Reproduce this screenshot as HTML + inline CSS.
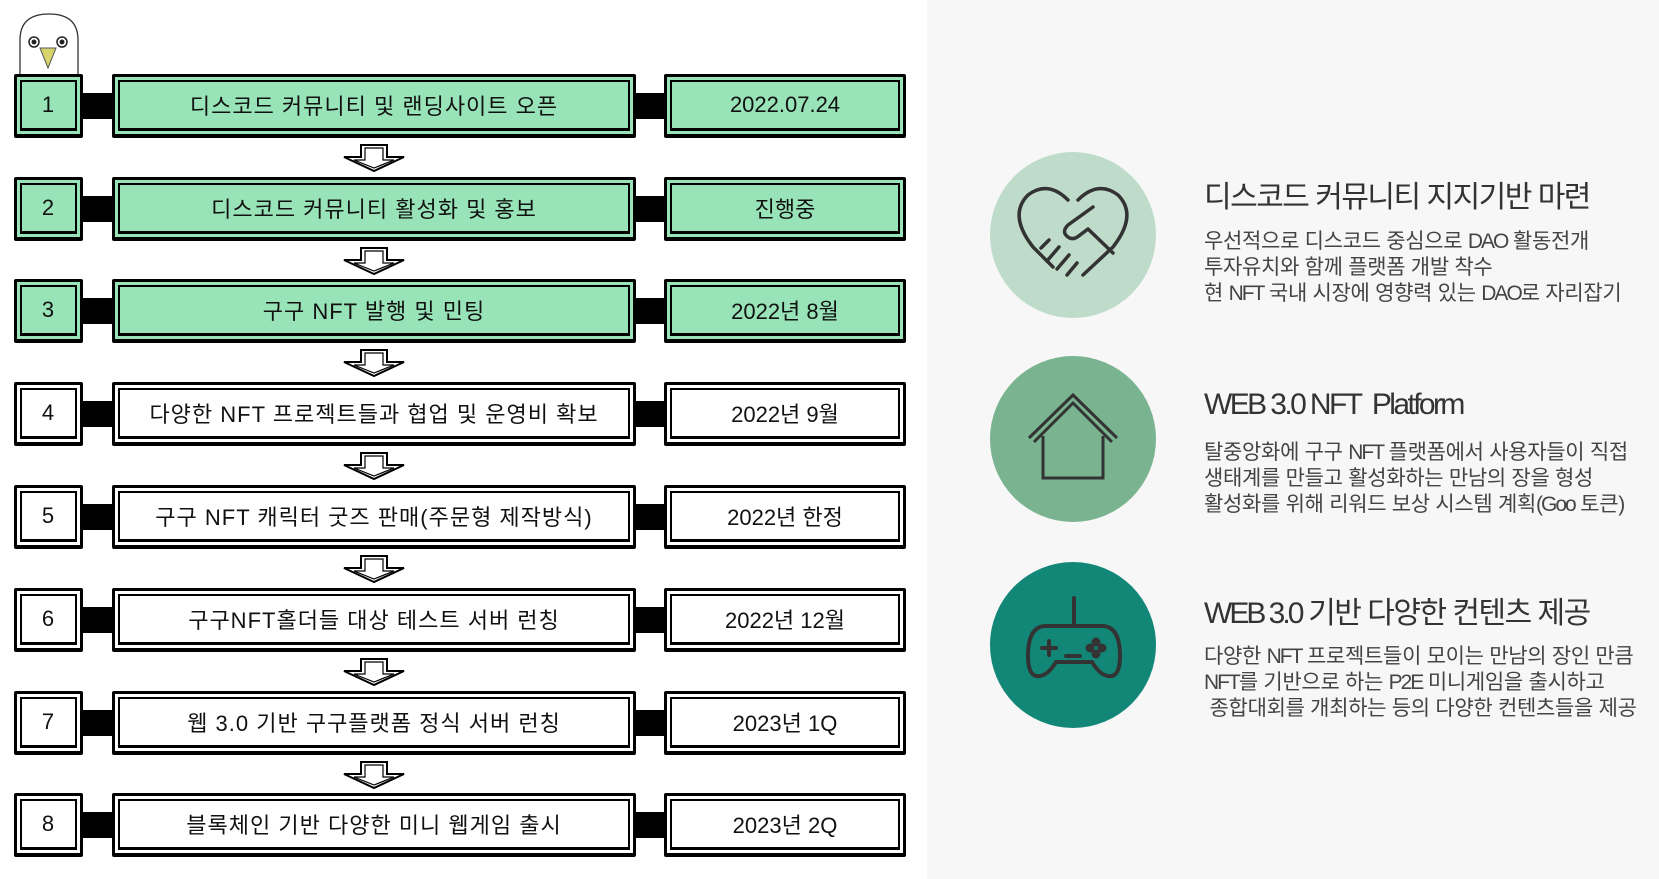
<!DOCTYPE html>
<html><head><meta charset="utf-8"><style>
*{margin:0;padding:0;box-sizing:border-box}
body{width:1659px;height:879px;position:relative;background:#fff;overflow:hidden;font-family:"Liberation Sans","Noto Sans CJK KR",sans-serif}
.b{position:absolute;height:64px;border:3px solid #000;border-bottom-width:4px;padding:3px;border-radius:2px}
.b>div{width:100%;height:100%;border:2px solid #000;border-bottom-width:3px;display:flex;align-items:center;justify-content:center;font-size:22px;letter-spacing:1px;color:#111}
.g{background:#98e4b8}.w{background:#fff}
.n{left:14px;width:69px}.c{left:112px;width:524px}.d{left:664px;width:242px}
.d>div{letter-spacing:0}
.k{position:absolute;background:#000;height:26px}
.arr{position:absolute;left:341px;width:66px;height:30px}
.rp{position:absolute;left:927px;top:0;width:732px;height:879px;background:#f7f7f7}
.ci{position:absolute;width:166px;height:166px;border-radius:50%;left:990px}
.t{position:absolute;left:1204px;font-size:30px;color:#333;letter-spacing:-1.5px;white-space:nowrap}
.p{position:absolute;left:1204px;font-size:21px;color:#444;line-height:26px;letter-spacing:-0.3px;white-space:nowrap}
.p span,.t span{letter-spacing:-2px}
</style></head><body>
<div class="rp"></div>

<svg style="position:absolute;left:17px;top:12px" width="66" height="64" viewBox="0 0 66 64">
<path d="M3 63 V28 Q3 2 32 2 Q61 2 61 28 V63" fill="#fff" stroke="#333" stroke-width="1.3"/>
<circle cx="17" cy="30" r="5" fill="#fff" stroke="#222" stroke-width="1.5"/><circle cx="17" cy="30" r="2.5" fill="#222"/>
<circle cx="45" cy="30" r="5" fill="#fff" stroke="#222" stroke-width="1.5"/><circle cx="45" cy="30" r="2.5" fill="#222"/>
<path d="M23 36 L39 36 L31 56 Z" fill="#d6d46a" stroke="#555" stroke-width="1"/>
</svg>

<div class="b n g" style="top:74px"><div>1</div></div><div class="k" style="left:83px;width:30px;top:93px"></div>
<div class="b c g" style="top:74px"><div>디스코드 커뮤니티 및 랜딩사이트 오픈</div></div><div class="k" style="left:635px;width:30px;top:93px"></div>
<div class="b d g" style="top:74px"><div>2022.07.24</div></div>

<div class="b n g" style="top:177px"><div>2</div></div><div class="k" style="left:83px;width:30px;top:196px"></div>
<div class="b c g" style="top:177px"><div>디스코드 커뮤니티 활성화 및 홍보</div></div><div class="k" style="left:635px;width:30px;top:196px"></div>
<div class="b d g" style="top:177px"><div>진행중</div></div>

<div class="b n g" style="top:279px"><div>3</div></div><div class="k" style="left:83px;width:30px;top:298px"></div>
<div class="b c g" style="top:279px"><div>구구 NFT 발행 및 민팅</div></div><div class="k" style="left:635px;width:30px;top:298px"></div>
<div class="b d g" style="top:279px"><div>2022년 8월</div></div>

<div class="b n w" style="top:382px"><div>4</div></div><div class="k" style="left:83px;width:30px;top:401px"></div>
<div class="b c w" style="top:382px"><div>다양한 NFT 프로젝트들과 협업 및 운영비 확보</div></div><div class="k" style="left:635px;width:30px;top:401px"></div>
<div class="b d w" style="top:382px"><div>2022년 9월</div></div>

<div class="b n w" style="top:485px"><div>5</div></div><div class="k" style="left:83px;width:30px;top:504px"></div>
<div class="b c w" style="top:485px"><div>구구 NFT 캐릭터 굿즈 판매(주문형 제작방식)</div></div><div class="k" style="left:635px;width:30px;top:504px"></div>
<div class="b d w" style="top:485px"><div>2022년 한정</div></div>

<div class="b n w" style="top:588px"><div>6</div></div><div class="k" style="left:83px;width:30px;top:607px"></div>
<div class="b c w" style="top:588px"><div>구구NFT홀더들 대상 테스트 서버 런칭</div></div><div class="k" style="left:635px;width:30px;top:607px"></div>
<div class="b d w" style="top:588px"><div>2022년 12월</div></div>

<div class="b n w" style="top:691px"><div>7</div></div><div class="k" style="left:83px;width:30px;top:710px"></div>
<div class="b c w" style="top:691px"><div>웹 3.0 기반 구구플랫폼 정식 서버 런칭</div></div><div class="k" style="left:635px;width:30px;top:710px"></div>
<div class="b d w" style="top:691px"><div>2023년 1Q</div></div>

<div class="b n w" style="top:793px"><div>8</div></div><div class="k" style="left:83px;width:30px;top:812px"></div>
<div class="b c w" style="top:793px"><div>블록체인 기반 다양한 미니 웹게임 출시</div></div><div class="k" style="left:635px;width:30px;top:812px"></div>
<div class="b d w" style="top:793px"><div>2023년 2Q</div></div>

<svg width="0" height="0" style="position:absolute"><defs><g id="a"><path d="M20 2 H46 V14 H63 L33 28 L3 14 H20 Z" fill="#fff" stroke="#000" stroke-width="2"/><path d="M24 5 H42 V17 H53 L33 25 L13 17 H24 Z" fill="none" stroke="#000" stroke-width="1.2"/></g></defs></svg>
<svg class="arr" style="top:143px" viewBox="0 0 66 30"><use href="#a"/></svg>
<svg class="arr" style="top:246px" viewBox="0 0 66 30"><use href="#a"/></svg>
<svg class="arr" style="top:348px" viewBox="0 0 66 30"><use href="#a"/></svg>
<svg class="arr" style="top:451px" viewBox="0 0 66 30"><use href="#a"/></svg>
<svg class="arr" style="top:554px" viewBox="0 0 66 30"><use href="#a"/></svg>
<svg class="arr" style="top:657px" viewBox="0 0 66 30"><use href="#a"/></svg>
<svg class="arr" style="top:760px" viewBox="0 0 66 30"><use href="#a"/></svg>

<div class="ci" style="top:152px;background:#bfdccb"></div>
<svg style="position:absolute;left:1013px;top:185px" width="120" height="100" viewBox="0 0 120 100" fill="none" stroke="#333" stroke-width="3.5" stroke-linejoin="round" stroke-linecap="round">
<path d="M55 15 Q35 -5 15 10 Q-5 30 20 62 L40 82"/>
<path d="M65 15 Q85 -5 105 10 Q125 30 100 62 L70 90"/>
<path d="M80 22 L55 40 Q48 47 55 52 Q60 56 67 50 L75 44 L100 68"/>
<path d="M36 55 L28 63 M46 62 L34 76 M56 70 L44 84 M64 78 L54 90"/>
</svg>
<div class="t" style="top:172px">디스코드 커뮤니티 지지기반 마련</div>
<div class="p" style="top:229px">우선적으로 디스코드 중심으로 <span>DAO</span> 활동전개<br>투자유치와 함께 플랫폼 개발 착수<br>현 <span>NFT</span> 국내 시장에 영향력 있는 <span>DAO</span>로 자리잡기</div>

<div class="ci" style="top:356px;background:#7ab38f"></div>
<svg style="position:absolute;left:1026px;top:392px" width="94" height="90" viewBox="0 0 94 90" fill="none" stroke="#333" stroke-width="3">
<path d="M3 46 L47 3 L91 46"/><path d="M8 50 L47 11 L86 50"/><path d="M17 44 V86 H77 V44"/>
</svg>
<div class="t" style="top:388px;letter-spacing:-2.6px">WEB 3.0 NFT&nbsp; Platform</div>
<div class="p" style="top:440px">탈중앙화에 구구 <span>NFT</span> 플랫폼에서 사용자들이 직접<br>생태계를 만들고 활성화하는 만남의 장을 형성<br>활성화를 위해 리워드 보상 시스템 계획<span>(Goo</span> 토큰)</div>

<div class="ci" style="top:562px;background:#138777"></div>
<svg style="position:absolute;left:1024px;top:596px" width="100" height="86" viewBox="0 0 100 86" fill="none" stroke="#333" stroke-width="4" stroke-linecap="round">
<path d="M50 2 V30"/>
<path d="M22 30 H78 Q96 30 96 60 Q96 82 84 80 Q76 79 68 66 H32 Q24 79 16 80 Q4 82 4 60 Q4 30 22 30 Z"/>
<path d="M18 52 H32 M25 45 V59 M42 60 H56"/>
<circle cx="72" cy="46" r="2.5" fill="#333"/><circle cx="78" cy="52" r="2.5" fill="#333"/><circle cx="66" cy="52" r="2.5" fill="#333"/><circle cx="72" cy="58" r="2.5" fill="#333"/>
</svg>
<div class="t" style="top:588px"><span style="letter-spacing:-3px">WEB 3.0</span> 기반 다양한 컨텐츠 제공</div>
<div class="p" style="top:644px">다양한 <span>NFT</span> 프로젝트들이 모이는 만남의 장인 만큼<br><span>NFT</span>를 기반으로 하는 <span>P2E</span> 미니게임을 출시하고<br>&nbsp;종합대회를 개최하는 등의 다양한 컨텐츠들을 제공</div>
</body></html>
